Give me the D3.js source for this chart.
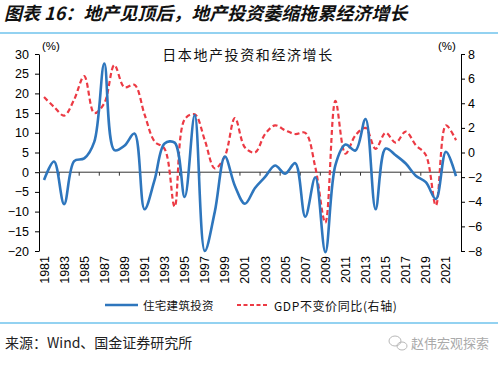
<!DOCTYPE html>
<html><head><meta charset="utf-8">
<script src="https://cdn.jsdelivr.net/npm/d3@7"></script>
<style>
html,body{margin:0;padding:0;background:#fff;}
svg{display:block;}
</style></head>
<body>
<svg id="c" width="500" height="366"></svg>
<script>
const years = d3.range(1981, 2023);
const housingInv = [-2.0, 2.7, -8.1, 2.8, 3.5, 7.7, 27.6, 5.6, 6.7, 9.8,
  -9.4, -2.0, 7.3, 7.5, -6.3, 14.5, -20.0, -10.0, 4.0, -3.5,
  -8.0, -4.0, -1.2, 1.7, -0.4, 2.3, -11.3, -1.3, -20.3, 1.8,
  7.0, 5.5, 13.5, -9.4, 6.0, 4.3, 2.2, -0.9, -2.5, -6.8,
  5.2, -1.0];
const gdpReal = [4.5, 3.7, 3.0, 4.3, 6.2, 3.2, 4.0, 7.1, 5.3, 5.5,
  3.1, 0.9, 0.3, -4.4, 2.7, 3.1, 1.0, -1.3, -0.3, 2.8,
  0.4, 0.0, 1.5, 2.2, 1.8, 1.5, 1.6, -1.2, -5.7, 4.2,
  -0.1, 1.4, 2.0, 0.3, 1.6, 0.8, 1.7, 0.6, -0.2, -4.3,
  2.2, 1.0];
const leftTicks = [-20, -15, -10, -5, 0, 5, 10, 15, 20, 25, 30];
const rightTicks = [-8, -6, -4, -2, 0, 2, 4, 6, 8];
const xLabelYears = years.filter((y, i) => i % 2 === 0 && y <= 2021);

const svg = d3.select("#c");
const L = 39, R = 461, T = 54, B = 251;
const latin = "'Liberation Sans', Arial, sans-serif";
const cjk = "'Noto Sans CJK SC', sans-serif";

// header
svg.append("text").attr("x", 4).attr("y", 20)
  .attr("font-family", cjk).attr("font-weight", "bold").attr("font-style", "italic")
  .attr("font-size", 18).attr("fill", "#111")
  .attr("transform", "skewX(0)")
  .text("图表 16：地产见顶后，地产投资萎缩拖累经济增长");
svg.append("line").attr("x1", 0).attr("x2", 498).attr("y1", 33).attr("y2", 33)
  .attr("stroke", "#6fc3ec").attr("stroke-width", 1.5);
svg.append("line").attr("x1", 0).attr("x2", 498).attr("y1", 323).attr("y2", 323)
  .attr("stroke", "#6fc3ec").attr("stroke-width", 1.5);

const x = d3.scaleBand().domain(years).range([L, R]).padding(0);
const yL = d3.scaleLinear().domain([-20, 30]).range([B, T]);
const yR = d3.scaleLinear().domain([-8, 8]).range([B, T]);

// left axis
const gL = svg.append("g").attr("transform", `translate(${L},0)`)
  .call(d3.axisLeft(yL).tickValues(leftTicks).tickSize(4).tickPadding(6).tickSizeOuter(0));
// right axis
const gR = svg.append("g").attr("transform", `translate(${R},0)`)
  .call(d3.axisRight(yR).tickValues(rightTicks).tickSize(4).tickPadding(3).tickSizeOuter(0));
[gL, gR].forEach(g => {
  g.selectAll("path,line").attr("stroke", "#000").attr("stroke-width", 1);
  g.selectAll("text").attr("font-family", latin).attr("font-size", 12.5).attr("fill", "#000");
});

// x axis at left 0
const gX = svg.append("g").attr("transform", `translate(0,${yL(0)})`);
gX.append("line").attr("x1", L).attr("x2", R).attr("stroke", "#333").attr("stroke-width", 1);
const tickPos = years.filter((y, i) => i % 2 === 0 && i > 0).map(y => x(y));
gX.selectAll("line.t").data(tickPos).enter().append("line").attr("class", "t")
  .attr("x1", d => d).attr("x2", d => d).attr("y1", 0).attr("y2", 3.5)
  .attr("stroke", "#333").attr("stroke-width", 1);

// x labels
svg.append("g").selectAll("text").data(xLabelYears).enter().append("text")
  .attr("transform", d => `translate(${x(d) + x.bandwidth() / 2 + 0.5},256) rotate(-90)`)
  .attr("text-anchor", "end").attr("dominant-baseline", "central")
  .attr("font-family", latin).attr("font-size", 12.5).attr("fill", "#000")
  .text(d => d);

// (%) labels
svg.append("text").attr("x", 42).attr("y", 50).attr("font-family", latin)
  .attr("font-size", 11.5).attr("fill", "#000").text("(%)");
svg.append("text").attr("x", 438).attr("y", 50).attr("font-family", latin)
  .attr("font-size", 11.5).attr("fill", "#000").text("(%)");

// chart title
svg.append("text").attr("x", 248).attr("y", 60).attr("text-anchor", "middle")
  .attr("font-family", cjk).attr("font-size", 14).attr("letter-spacing", 1.6)
  .attr("fill", "#111").text("日本地产投资和经济增长");

const cx = d => x(d) + x.bandwidth() / 2;
const lineL = d3.line().x((d, i) => cx(years[i])).y(d => yL(d)).curve(d3.curveCatmullRom.alpha(0.5));
const lineR = d3.line().x((d, i) => cx(years[i])).y(d => yR(d)).curve(d3.curveCatmullRom.alpha(0.5));

svg.append("path").datum(gdpReal).attr("d", lineR).attr("fill", "none")
  .attr("stroke", "#ec3a44").attr("stroke-width", 2.2).attr("stroke-dasharray", "5,3");
svg.append("path").datum(housingInv).attr("d", lineL).attr("fill", "none")
  .attr("stroke", "#2e76bd").attr("stroke-width", 2.6);

// legend
const lg = svg.append("g");
lg.append("line").attr("x1", 105).attr("x2", 138).attr("y1", 305).attr("y2", 305)
  .attr("stroke", "#2e76bd").attr("stroke-width", 2.6);
lg.append("text").attr("x", 143).attr("y", 305).attr("dominant-baseline", "central")
  .attr("font-family", cjk).attr("font-size", 11.5).attr("letter-spacing", 0.3).attr("fill", "#111")
  .text("住宅建筑投资");
lg.append("line").attr("x1", 237).attr("x2", 268).attr("y1", 305).attr("y2", 305)
  .attr("stroke", "#ec3a44").attr("stroke-width", 2.2).attr("stroke-dasharray", "4,2.5");
lg.append("text").attr("x", 274).attr("y", 305).attr("dominant-baseline", "central")
  .attr("font-family", cjk).attr("font-size", 12).attr("letter-spacing", 0.6).attr("fill", "#111")
  .text("GDP不变价同比(右轴)");

// source
svg.append("text").attr("x", 5).attr("y", 348)
  .attr("font-family", cjk).attr("font-size", 14).attr("fill", "#222")
  .text("来源：Wind、国金证券研究所");

// watermark
const wm = svg.append("g").attr("fill", "none").attr("stroke", "#b8b8b8").attr("stroke-width", 1);
wm.append("ellipse").attr("cx", 395).attr("cy", 341).attr("rx", 6).attr("ry", 5);
wm.append("ellipse").attr("cx", 402).attr("cy", 346).attr("rx", 5).attr("ry", 4);
svg.append("text").attr("x", 411).attr("y", 348)
  .attr("font-family", cjk).attr("font-size", 13).attr("fill", "#aaa")
  .text("赵伟宏观探索");
</script>
</body></html>
